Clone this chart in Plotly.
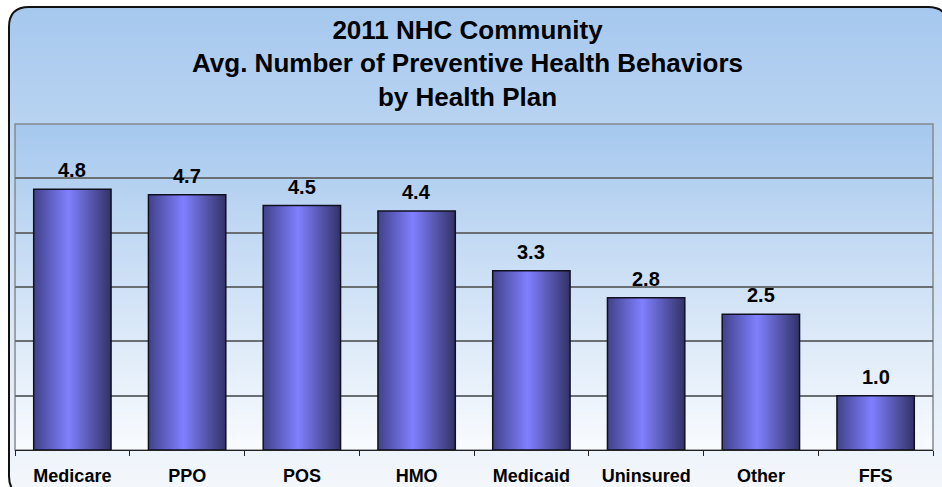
import base64
import struct
import zlib

import numpy as np
import plotly.graph_objects as go

# --- data ---------------------------------------------------------------
plans = ["Medicare", "PPO", "POS", "HMO", "Medicaid", "Uninsured", "Other", "FFS"]
avg_behaviors = [4.8, 4.7, 4.5, 4.4, 3.3, 2.8, 2.5, 1.0]
title_lines = [
    "2011 NHC Community",
    "Avg. Number of Preventive Health Behaviors",
    "by Health Plan",
]

# --- canvas geometry (pixels) -------------------------------------------
W, H = 942, 487
M_L, M_R, M_T, M_B = 15, 9, 124, 37
PW, PH = W - M_L - M_R, H - M_T - M_B


def px_x(px):
    return (px - M_L) / PW


def px_y(py):
    return (H - M_B - py) / PH


def gradient_png(top_rgb, bottom_rgb, n=256, width=4):
    """Vertical gradient as a tiny PNG data URI."""
    t = np.linspace(0, 1, n)[:, None]
    rows = np.round(np.array(top_rgb) * (1 - t) + np.array(bottom_rgb) * t).astype(np.uint8)
    raw = b"".join(b"\x00" + bytes(list(r)) * width for r in rows)

    def chunk(tag, data):
        return (struct.pack(">I", len(data)) + tag + data
                + struct.pack(">I", zlib.crc32(tag + data) & 0xFFFFFFFF))

    png = (b"\x89PNG\r\n\x1a\n"
           + chunk(b"IHDR", struct.pack(">IIBBBBB", width, n, 8, 2, 0, 0, 0))
           + chunk(b"IDAT", zlib.compress(raw, 9))
           + chunk(b"IEND", b""))
    return "data:image/png;base64," + base64.b64encode(png).decode()


FONT = "Arial, Liberation Sans, sans-serif"
BAR_HALF = 0.337

fig = go.Figure()

# cylinder-shaded bars
for i, (name, v) in enumerate(zip(plans, avg_behaviors)):
    fig.add_trace(go.Scatter(
        x=[i - BAR_HALF, i - BAR_HALF, i + BAR_HALF, i + BAR_HALF, i - BAR_HALF],
        y=[0, v, v, 0, 0],
        mode="lines",
        fill="toself",
        fillgradient=dict(
            type="horizontal",
            colorscale=[[0, "#41418a"], [0.45, "#8080ff"], [1, "#323266"]],
        ),
        line=dict(color="#101020", width=1.5),
        name=name,
        hoverinfo="skip",
        showlegend=False,
    ))

# value labels above the bars
for i, v in enumerate(avg_behaviors):
    fig.add_annotation(
        x=i, y=v, xref="x", yref="y",
        text=f"{v:.1f}", showarrow=False,
        yanchor="bottom", yshift=6,
        font=dict(family=FONT, size=20, color="black", weight="bold"),
    )

# box outline coordinates
BX0, BY0, BX1, BY1, R = 9, 7, 948, 496, 20

images = [
    # outer panel gradient
    dict(source=gradient_png((166, 200, 238), (245, 248, 252)),
         xref="paper", yref="paper", x=px_x(BX0), y=px_y(BY0),
         sizex=(BX1 - BX0) / PW, sizey=(BY1 - BY0) / PH,
         xanchor="left", yanchor="top", sizing="stretch", layer="below"),
    # plot area gradient
    dict(source=gradient_png((166, 200, 238), (249, 251, 254)),
         xref="paper", yref="paper", x=0, y=1, sizex=1, sizey=1,
         xanchor="left", yanchor="top", sizing="stretch", layer="below"),
]


def p(x, y):
    return f"{px_x(x):.5f},{px_y(y):.5f}"


corner_tl = f"M{p(BX0-2, BY0-2)} L{p(BX0+R, BY0-2)} L{p(BX0+R, BY0)} Q{p(BX0, BY0)} {p(BX0, BY0+R)} L{p(BX0-2, BY0+R)} Z"
corner_tr = f"M{p(BX1+2, BY0-2)} L{p(BX1-R, BY0-2)} L{p(BX1-R, BY0)} Q{p(BX1, BY0)} {p(BX1, BY0+R)} L{p(BX1+2, BY0+R)} Z"
corner_bl = f"M{p(BX0-2, BY1+2)} L{p(BX0+R, BY1+2)} L{p(BX0+R, BY1)} Q{p(BX0, BY1)} {p(BX0, BY1-R)} L{p(BX0-2, BY1-R)} Z"
outline = (f"M{p(BX0+R, BY1)} Q{p(BX0, BY1)} {p(BX0, BY1-R)} L{p(BX0, BY0+R)} "
           f"Q{p(BX0, BY0)} {p(BX0+R, BY0)} L{p(BX1-R, BY0)} Q{p(BX1, BY0)} {p(BX1, BY0+R)} "
           f"L{p(BX1, BY1-R)}")

shapes = [
    dict(type="path", path=corner_tl, xref="paper", yref="paper",
         fillcolor="white", line=dict(width=0), layer="below"),
    dict(type="path", path=corner_tr, xref="paper", yref="paper",
         fillcolor="white", line=dict(width=0), layer="below"),
    dict(type="path", path=corner_bl, xref="paper", yref="paper",
         fillcolor="white", line=dict(width=0), layer="below"),
    dict(type="path", path=outline, xref="paper", yref="paper",
         line=dict(color="#111111", width=2), layer="above"),
    # plot area frame
    dict(type="rect", xref="paper", yref="paper", x0=0, y0=0, x1=1, y1=1,
         line=dict(color="#858a8e", width=1.5), layer="below"),
]

fig.update_layout(
    width=W, height=H,
    margin=dict(l=M_L, r=M_R, t=M_T, b=M_B, pad=0, autoexpand=False),
    paper_bgcolor="white",
    plot_bgcolor="rgba(0,0,0,0)",
    images=images,
    shapes=shapes,
    title=dict(
        text="<br>".join(title_lines),
        x=467.5 / W, xref="container", xanchor="center",
        y=1 - 38.5 / H, yref="container", yanchor="middle",
        font=dict(family=FONT, size=26, color="black", weight="bold"),
        automargin=False,
    ),
    xaxis=dict(
        range=[-0.5, len(plans) - 0.5],
        tickmode="array",
        tickvals=list(range(len(plans))),
        ticktext=plans,
        ticks="",
        showgrid=False,
        zeroline=False,
        showline=True, linecolor="#222222", linewidth=1.2,
        tickfont=dict(family=FONT, size=18, color="black", weight="bold"),
        ticklabelstandoff=9,
        automargin=False,
        minor=dict(
            tickmode="array",
            tickvals=[k - 0.5 for k in range(len(plans) + 1)],
            ticks="outside", ticklen=5, tickwidth=1.2, tickcolor="#222222",
            showgrid=False,
        ),
        fixedrange=True,
    ),
    yaxis=dict(
        range=[0, 6],
        tickmode="linear", tick0=0, dtick=1,
        showticklabels=False,
        ticks="",
        showgrid=True, gridcolor="#6a6f73", gridwidth=1.5,
        zeroline=False,
        showline=False,
        automargin=False,
        fixedrange=True,
    ),
    showlegend=False,
)

fig.write_html("out.html")
